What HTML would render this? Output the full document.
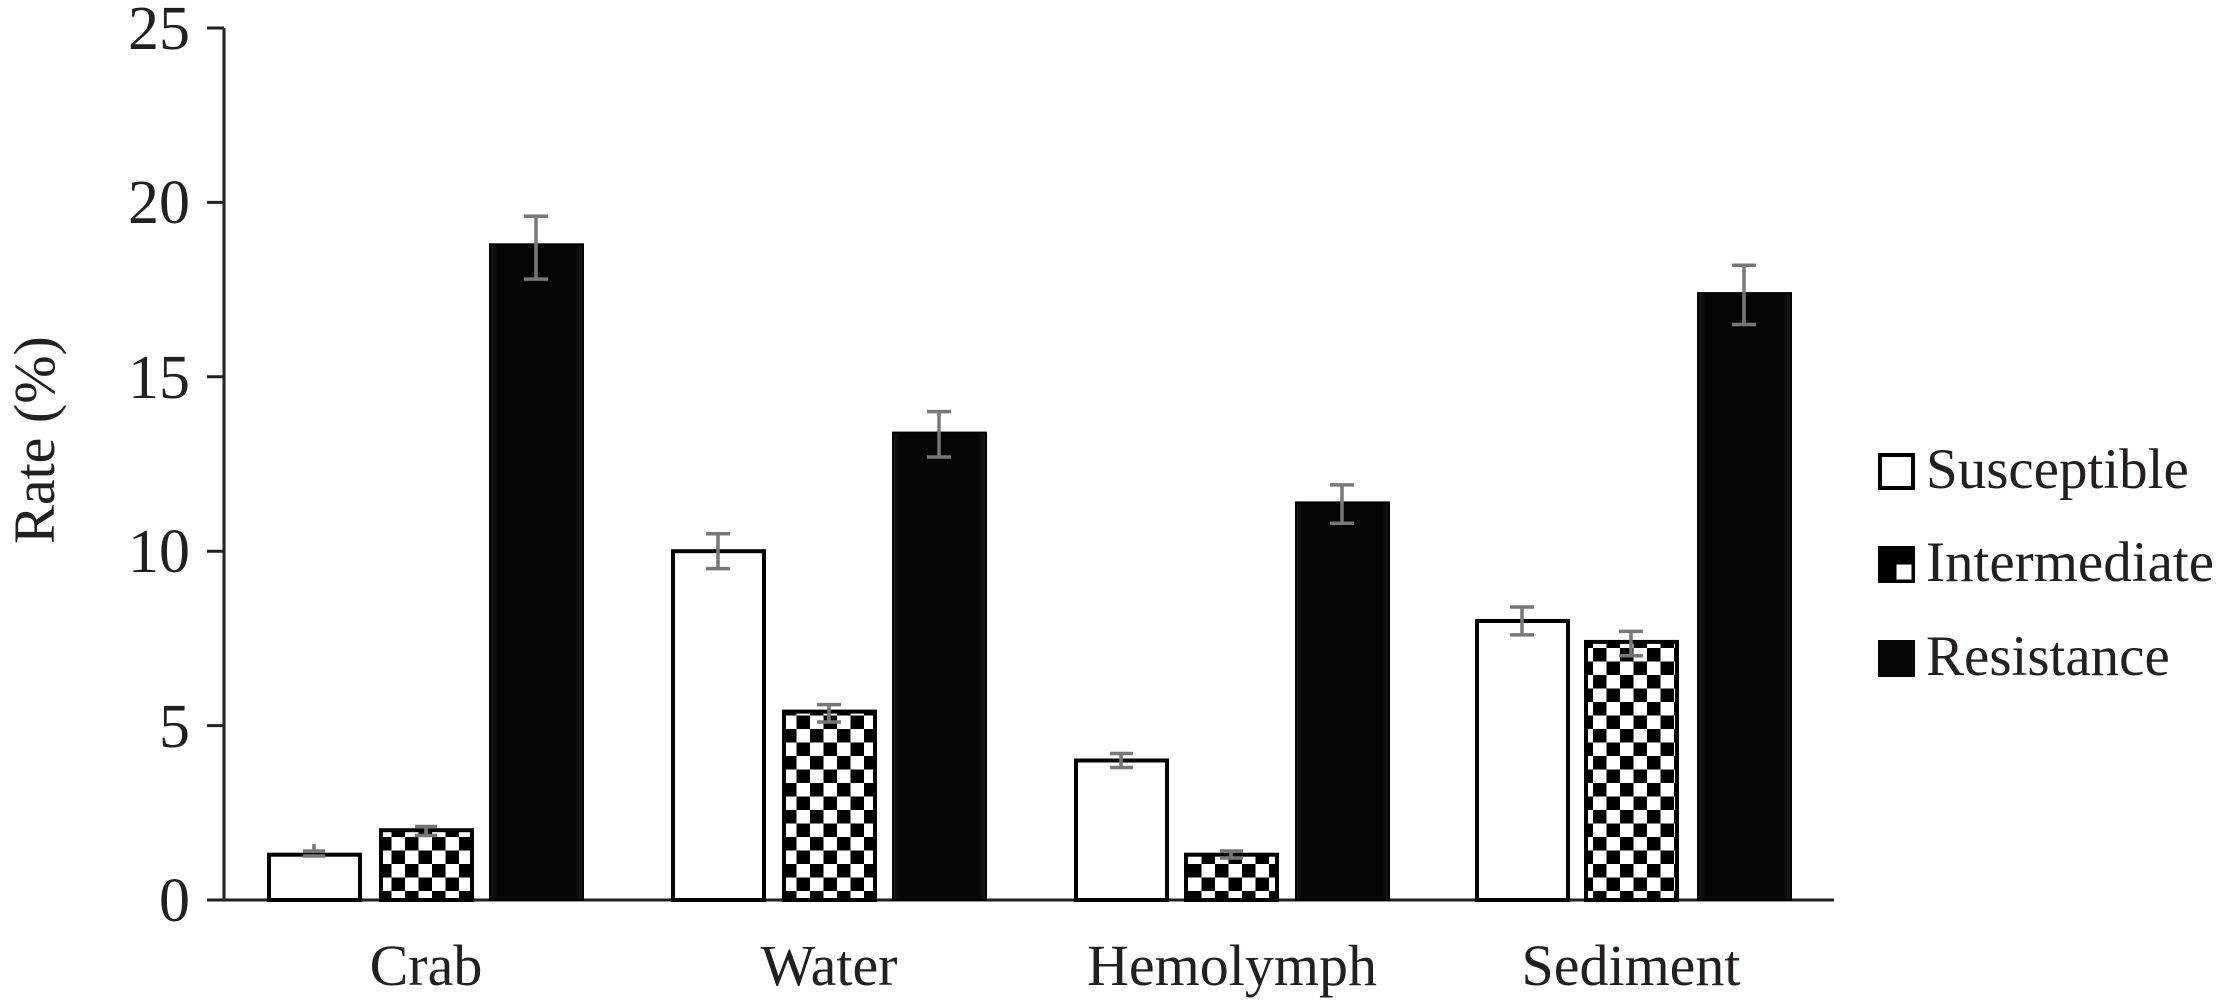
<!DOCTYPE html>
<html><head><meta charset="utf-8"><style>html,body{margin:0;padding:0;background:#fff}svg{display:block}svg text{font-family:"Liberation Serif","Times New Roman","DejaVu Serif",serif !important;fill:#231f20}</style></head>
<body>
<svg width="2216" height="1005" viewBox="0 0 2216 1005" xmlns="http://www.w3.org/2000/svg" font-family="'Liberation Serif', 'DejaVu Serif', serif">
<defs>
<pattern id="chk" width="27" height="27" patternUnits="userSpaceOnUse" x="0" y="0">
<rect width="27" height="27" fill="#fff"/>
<rect width="13.5" height="13.5" fill="#000"/>
<rect x="13.5" y="13.5" width="13.5" height="13.5" fill="#000"/>
</pattern>
<linearGradient id="blk" x1="0" x2="1" y1="0" y2="0">
<stop offset="0" stop-color="#1a1a1a"/><stop offset="0.08" stop-color="#050505"/><stop offset="0.92" stop-color="#050505"/><stop offset="1" stop-color="#1a1a1a"/>
</linearGradient>
</defs>
<line x1="224" y1="28" x2="224" y2="901" stroke="#231f20" stroke-width="3"/>
<line x1="222" y1="900" x2="1834" y2="900" stroke="#231f20" stroke-width="3"/>
<g stroke="#231f20" stroke-width="3">
<line x1="207" y1="28" x2="224" y2="28"/><line x1="207" y1="202.4" x2="224" y2="202.4"/><line x1="207" y1="376.8" x2="224" y2="376.8"/><line x1="207" y1="551.2" x2="224" y2="551.2"/><line x1="207" y1="725.6" x2="224" y2="725.6"/><line x1="207" y1="900" x2="224" y2="900"/>
</g>
<g font-size="62" text-anchor="end">
<text x="190" y="49">25</text><text x="190" y="223">20</text><text x="190" y="398">15</text><text x="190" y="572">10</text><text x="190" y="747">5</text><text x="190" y="921">0</text>
</g>
<text transform="translate(54,440) rotate(-90)" font-size="58" text-anchor="middle">Rate (%)</text>
<g font-size="58" text-anchor="middle">
<text x="426" y="985">Crab</text><text x="829" y="985">Water</text><text x="1232" y="985">Hemolymph</text><text x="1631" y="985">Sediment</text>
</g>
<g stroke="#000" stroke-width="4">
<rect x="269" y="854.7" width="91" height="45.3" fill="#fff"/>
<rect x="381" y="830.2" width="91" height="69.8" fill="url(#chk)"/>
<rect x="673" y="551.2" width="91" height="348.8" fill="#fff"/>
<rect x="784" y="711.6" width="91" height="188.4" fill="url(#chk)"/>
<rect x="1076" y="760.5" width="91" height="139.5" fill="#fff"/>
<rect x="1186" y="854.7" width="91" height="45.3" fill="url(#chk)"/>
<rect x="1477" y="621" width="91" height="279" fill="#fff"/>
<rect x="1586" y="641.9" width="91" height="258.1" fill="url(#chk)"/>
</g>
<g fill="url(#blk)" stroke="#000" stroke-width="2">
<rect x="490" y="244.3" width="93" height="655.7"/>
<rect x="893" y="432.6" width="93" height="467.4"/>
<rect x="1296" y="502.4" width="93" height="397.6"/>
<rect x="1698" y="293.1" width="93" height="606.9"/>
</g>
<g stroke="#777" stroke-width="3.5">
<path d="M314 851v-7M303 851h22M303 856h22"/>
<path d="M426 835.5v-9M415 835.5h22M415 826.5h22"/>
<path d="M536 279.1v-62.8M524 279.1h24M524 216.3h24"/>
<path d="M718 568.6v-34.9M706 568.6h24M706 533.7h24"/>
<path d="M829 722v-17.4M817 722h24M817 704.6h24"/>
<path d="M939 457v-45.4M927 457h24M927 411.6h24"/>
<path d="M1121 767.5v-14M1110 767.5h23M1110 753.5h23"/>
<path d="M1231 858v-7M1220 858h23M1220 851h23"/>
<path d="M1342 523.3v-38.4M1330 523.3h24M1330 484.9h24"/>
<path d="M1522 634.9v-27.9M1510 634.9h24M1510 607h24"/>
<path d="M1631 655.8v-24.4M1619 655.8h24M1619 631.4h24"/>
<path d="M1744 324.5v-59.3M1732 324.5h24M1732 265.2h24"/>
</g>
<rect x="1880" y="455" width="33" height="33" fill="#fff" stroke="#000" stroke-width="4"/>
<rect x="1878" y="546" width="37" height="37" fill="#000"/>
<rect x="1896.5" y="564.5" width="15" height="15" fill="#fff"/>
<rect x="1878" y="640" width="37" height="37" fill="#050505"/>
<g font-size="57">
<text x="1926" y="488">Susceptible</text>
<text x="1926" y="581">Intermediate</text>
<text x="1926" y="675">Resistance</text>
</g>
</svg>
</body></html>
